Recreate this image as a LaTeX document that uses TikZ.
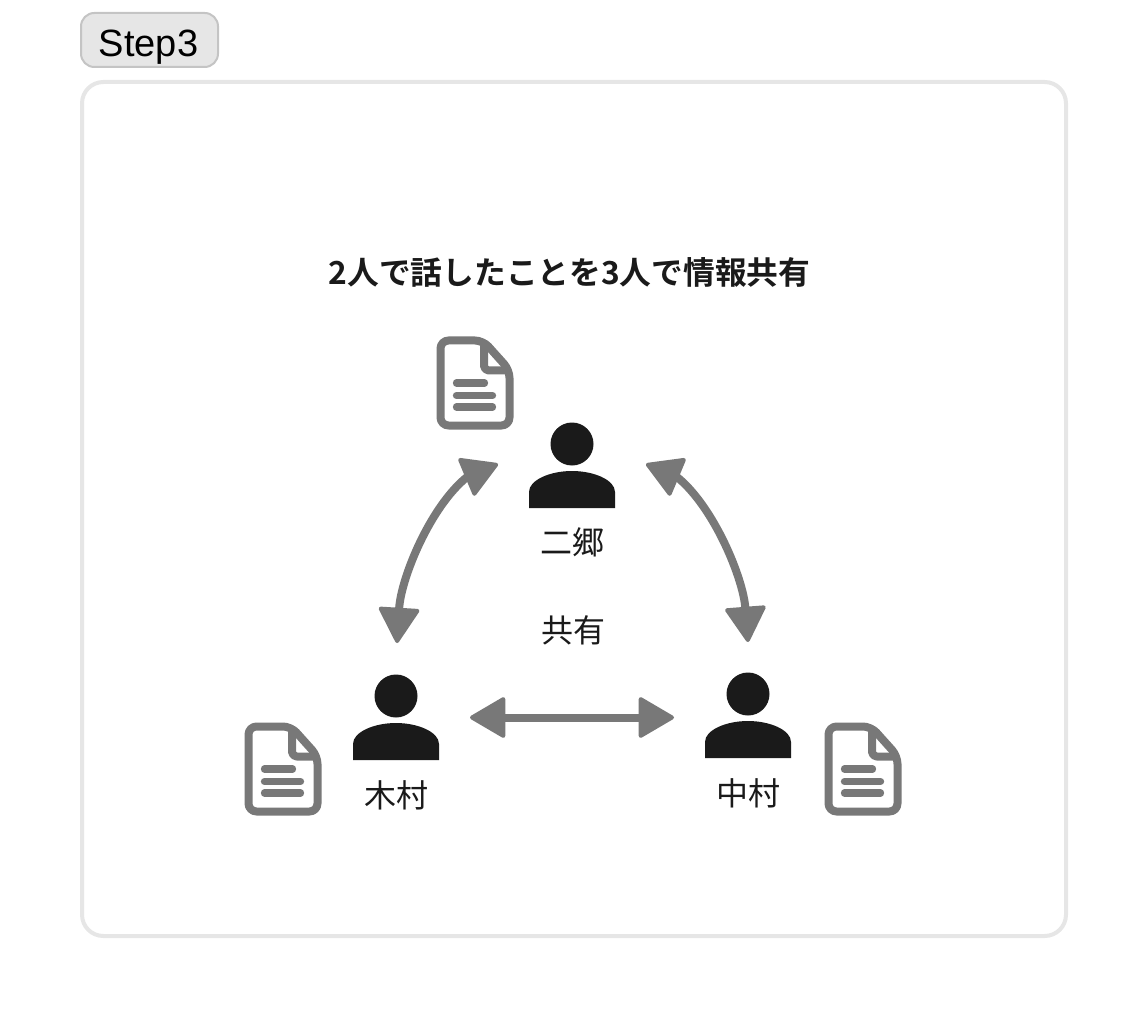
\documentclass[tikz,border=0pt]{standalone}
\usepackage{fontspec}
\setmainfont{Liberation Sans}
\newfontfamily\cjk{Noto Sans CJK JP}
\newfontfamily\cjkbold{Noto Sans CJK JP Bold}
\usetikzlibrary{arrows.meta}
\definecolor{ink}{HTML}{1A1A1A}
\definecolor{midgrey}{HTML}{787878}
\definecolor{panelline}{HTML}{E6E6E6}
\definecolor{tagfill}{HTML}{E6E6E6}
\definecolor{tagline}{HTML}{C4C4C4}
\tikzset{
  x=0.75pt,y=-0.75pt,
  panel/.style={draw=panelline,line width=3pt,rounded corners=16pt,fill=white},
  tagbox/.style={draw=tagline,line width=1.5pt,rounded corners=10pt,fill=tagfill},
  taglabel/.style={font=\fontsize{28.5}{30}\selectfont,text=black,inner sep=0pt},
  titlelabel/.style={font=\cjkbold\fontsize{23.8}{28}\selectfont,text=ink,inner sep=0pt},
  namelabel/.style={font=\cjk\fontsize{24}{28}\selectfont,text=ink,inner sep=0pt},
  conn/.style={draw=midgrey,line width=6pt,
    {Triangle[round,length=28pt,width=32pt,line width=3pt,fill=midgrey,color=midgrey]}-{Triangle[round,length=28pt,width=32pt,line width=3pt,fill=midgrey,color=midgrey]}},
  docline/.style={draw=midgrey,line width=6pt,line join=round},
  docbar/.style={draw=midgrey,line width=5.5pt,line cap=round},
  pics/person/.style={code={
    \fill[ink] (0,0) circle[radius=21.5];
    \fill[ink] (-43,64) -- (-43,48) .. controls (-43,36) and (-22,27) .. (0,27)
      .. controls (22,27) and (43,36) .. (43,48) -- (43,64) -- cycle;
  }},
  pics/document/.style={code={
    \draw[docline,fill=white,rounded corners=6pt] (-34.5,-42.5) -- (8,-42.5) -- (34.5,-13) -- (34.5,42.5) -- (-34.5,42.5) -- cycle;
    \draw[docline,rounded corners=3.5pt] (9,-42) -- (9,-12.5) -- (34,-12.5);
    \draw[docbar] (-18.5,0) -- (9.5,0);
    \draw[docbar] (-18.5,12.5) -- (17.5,12.5);
    \draw[docbar] (-18.5,24) -- (17.5,24);
  }}
}
\begin{document}
\begin{tikzpicture}
\useasboundingbox (0,0) rectangle (1148,1019);
\path[panel] (82,82) rectangle (1066,936);
\path[tagbox] (81,13) rectangle (218,67);
\node[taglabel] (step) at (148.5,47) {Step3};
\node[titlelabel] (title) at (569.5,272) {2人で話したことを3人で情報共有};

\pic at (572,444) {person};
\pic at (396,696) {person};
\pic at (748,694) {person};
\pic at (475,383) {document};
\pic at (283,769) {document};
\pic at (863,769) {document};

\node[namelabel] (nigo) at (572,542) {二郷};
\node[namelabel] (kimura) at (396,795) {木村};
\node[namelabel] (nakamura) at (748,793) {中村};
\node[namelabel] (share) at (573,630) {共有};

\coordinate (nigoL) at (498,464);
\coordinate (nigoLb) at (467,477);
\coordinate (nigoR) at (646,464);
\coordinate (nigoRb) at (677,477);
\coordinate (kimuraT) at (397,643);
\coordinate (nakamuraT) at (748,642);
\coordinate (kimuraR) at (470,717.5);
\coordinate (nakamuraL) at (674,717.5);

\draw[conn] (kimuraT) .. controls (401,578) and (430,507) .. (nigoLb) -- (nigoL);
\draw[conn] (nakamuraT) .. controls (743,578) and (714,507) .. (nigoRb) -- (nigoR);
\draw[conn] (kimuraR) -- (nakamuraL);
\end{tikzpicture}
\end{document}
